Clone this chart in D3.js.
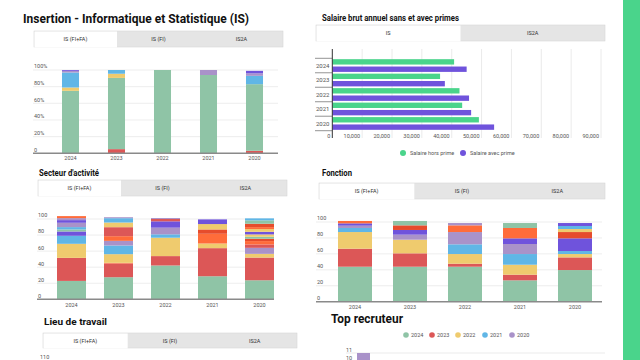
<!DOCTYPE html>
<html><head><meta charset="utf-8">
<script src="https://cdn.jsdelivr.net/npm/d3@7"></script>
<style>
html,body{margin:0;padding:0;background:#fff;overflow:hidden;}
svg{display:block;font-family:Roboto, "Noto Sans", sans-serif;}
</style></head><body>
<svg id="c" width="640" height="360"></svg>
<script>
// ---------- DATA ----------
const years = ["2024", "2023", "2022", "2021", "2020"];
const palette = {green:"#8fc4a6", red:"#dc5757", yellow:"#efcb6e", blue:"#60b6e6",
  lavender:"#a992c9", purple:"#6f53dc", orange:"#ff6c3a", orangered:"#e64c2c"};

// Insertion (%), segments bottom -> top
const insertion2024 = [["green",75],["yellow",4],["blue",18],["lavender",2],["purple",1]];
const insertion2023 = [["red",5],["green",85.5],["yellow",5],["blue",4.5]];
const insertion2022 = [["green",100]];
const insertion2021 = [["green",94],["lavender",6]];
const insertion2020 = [["red",3],["green",80],["blue",10],["lavender",3],["purple",3]];
const insertionTicks = [0, 20, 40, 60, 80, 100];

// Secteur d'activité
const secteur2024 = [["green",22.9],["red",28.7],["yellow",17.5],["blue",10],["purple",5.4],["green",2.5],["blue",2.9],["lavender",5.4],["purple",3.3],["lavender",2.5],["orange",2.5]];
const secteur2023 = [["green",27.5],["red",17.1],["orange",0.8],["yellow",10.8],["blue",10.8],["lavender",5.8],["orange",5.8],["red",11.2],["yellow",5.8],["blue",5.4],["lavender",1.2]];
const secteur2022 = [["green",42.1],["red",11.7],["yellow",22.9],["blue",4.2],["lavender",8.3],["purple",7.9],["red",2.9],["lavender",1.2]];
const secteur2021 = [["green",28.7],["red",35],["yellow",5.8],["orange",12.1],["orangered",5.4],["yellow",6.7],["purple",5.8]];
const secteur2020 = [["green",23.7],["red",28.3],["yellow",4.6],["lavender",7.5],["red",4.2],["orange",4.2],["orangered",2.9],["green",2.5],["yellow",2.9],["purple",3.3],["yellow",3.3],["orange",2.5],["orangered",4.2],["green",4.2],["blue",2.5]];

// Fonction
const fonction2024 = [["green",43.9],["red",22.6],["yellow",20.9],["blue",5.1],["lavender",2.9],["purple",2.9],["orange",3]];
const fonction2023 = [["green",43.9],["red",16.8],["yellow",17.1],["lavender",6.3],["purple",5.9],["orangered",5.8],["green",5.5]];
const fonction2022 = [["green",43.9],["red",3.8],["yellow",12.1],["blue",12.2],["lavender",15.4],["orange",8.4],["lavender",2.9]];
const fonction2021 = [["green",26.8],["red",7.1],["yellow",12.5],["blue",13.4],["lavender",12.6],["purple",7.1],["orange",13],["green",6.2]];
const fonction2020 = [["green",39.7],["red",15.9],["yellow",4.2],["blue",3.8],["purple",15.9],["orangered",7.9],["yellow",3.8],["blue",3.8],["purple",3.7]];
const countTicks = [0, 20, 40, 60, 80, 100];

// Salaire brut annuel
const salaireHorsPrime = [40800, 36100, 42600, 43500, 49100];
const salaireAvecPrime = [45000, 37700, 45800, 46500, 54200];
const salaireTicks = [0,10000,20000,30000,40000,50000,60000,70000,80000,90000];
const salaireSeries = ["Salaire hors prime", "Salaire avec prime"];

// Top recruteur
const recruteurLegend = ["2024", "2023", "2022", "2021", "2020"];
const recruteurValues = [11];
const recruteurTicks = [11, 10];
const lieuTicks = [110];

// Tabs
const tabs3 = ["IS (FI+FA)", "IS (FI)", "IS2A"];
const tabs2 = ["IS", "IS2A"];

// ---------- DRAW ----------
const svg = d3.select("#c");
const TXT = "#555";

svg.append("rect").attr("x",623).attr("y",0).attr("width",17).attr("height",360).attr("fill","#4ad48b");

function title(text, x, y, size, width){
  svg.append("text").attr("x",x).attr("y",y).attr("font-size",size).attr("font-weight",700)
    .attr("fill","#111").attr("textLength",width).attr("lengthAdjust","spacingAndGlyphs").text(text);
}
function tabBar(x0, x1, y0, y1, labels){
  const g = svg.append("g");
  const xs = d3.scaleBand().domain(labels).range([x0, x1]);
  g.append("rect").attr("x",x0).attr("y",y0).attr("width",x1-x0).attr("height",y1-y0)
    .attr("fill","#e5e5e5").attr("stroke","#d6d6d6").attr("stroke-width",0.6);
  g.append("rect").attr("x",x0+0.5).attr("y",y0+0.5).attr("width",xs.bandwidth()-0.5).attr("height",y1-y0)
    .attr("fill","#fff");
  g.selectAll("text.t").data(labels).join("text")
    .attr("x",d=>xs(d)+xs.bandwidth()/2).attr("y",(y0+y1)/2+2)
    .attr("text-anchor","middle").attr("font-size",5.5).attr("fill","#333").text(d=>d);
}
function stacked(cfg){
  const g = svg.append("g");
  const x = d3.scaleBand().domain(years).range(cfg.xr).paddingInner(cfg.pi).paddingOuter(cfg.pi/2);
  const y = d3.scaleLinear().domain([0,100]).range(cfg.yr);
  g.selectAll("line.grid").data(cfg.ticks.filter(t=>t>0)).join("line")
    .attr("x1",cfg.gx[0]).attr("x2",cfg.gx[1]).attr("y1",d=>y(d)).attr("y2",d=>y(d))
    .attr("stroke","#e8e8e8").attr("stroke-width",0.8);
  g.selectAll("text.yl").data(cfg.ticks).join("text")
    .attr("x",cfg.gx[0]+1).attr("y",d=>y(d)-1.6).attr("font-size",5.5).attr("fill",TXT)
    .text(cfg.fmt);
  years.forEach((yr,i)=>{
    let acc = 0;
    const segs = cfg.data[i].map(([k,v])=>{const s={k,y0:acc,y1:acc+v}; acc+=v; return s;});
    g.selectAll(null).data(segs).join("rect")
      .attr("x",x(yr)).attr("width",x.bandwidth())
      .attr("y",d=>y(d.y1)).attr("height",d=>y(d.y0)-y(d.y1))
      .attr("fill",d=>palette[d.k]);
  });
  g.append("line").attr("x1",cfg.gx[0]).attr("x2",cfg.gx[1]).attr("y1",y(0)).attr("y2",y(0))
    .attr("stroke","#8a8a8a").attr("stroke-width",1.5);
  g.selectAll("text.xl").data(years).join("text")
    .attr("x",d=>x(d)+x.bandwidth()/2).attr("y",cfg.xly).attr("text-anchor","middle")
    .attr("font-size",5.5).attr("fill",TXT).text(d=>d);
}

// Insertion
title("Insertion - Informatique et Statistique (IS)", 23, 22.7, 13, 226);
tabBar(34, 283, 31, 47, tabs3);
stacked({data:[insertion2024,insertion2023,insertion2022,insertion2021,insertion2020],
  xr:[47.5,277.5], pi:0.63, yr:[153.3,70], gx:[33,278], ticks:insertionTicks,
  fmt:d=>d===0?"0":d+"%", xly:160});

// Secteur
title("Secteur d'activité", 39, 176, 8.5, 60);
tabBar(38, 287, 180, 196, tabs3);
stacked({data:[secteur2024,secteur2023,secteur2022,secteur2021,secteur2020],
  xr:[48,283], pi:0.383, yr:[299.3,219], gx:[37,274], ticks:countTicks,
  fmt:d=>String(d), xly:306.5});

// Fonction
title("Fonction", 322, 176, 8.5, 30);
tabBar(319, 605, 183, 199, tabs3);
stacked({data:[fonction2024,fonction2023,fonction2022,fonction2021,fonction2020],
  xr:[327.5,602.5], pi:0.382, yr:[301.7,222], gx:[316,602], ticks:countTicks,
  fmt:d=>String(d), xly:309});

// Salaire
title("Salaire brut annuel sans et avec primes", 322, 21, 8.5, 137);
tabBar(316, 605, 25, 41, tabs2);
{
  const g = svg.append("g");
  const x = d3.scaleLinear().domain([0,90000]).range([332.3,601]);
  const y = d3.scaleBand().domain(years).range([58.3,130.7]);
  const ys = d3.scaleBand().domain(salaireSeries).range([0,y.bandwidth()]).paddingInner(0.27).paddingOuter(0.12);
  const cols = ["#4ad48b","#6f53dc"];
  g.selectAll("line.vg").data(salaireTicks.filter(t=>t>0)).join("line")
    .attr("x1",d=>x(d)).attr("x2",d=>x(d)).attr("y1",49).attr("y2",138)
    .attr("stroke","#e4e4e4").attr("stroke-width",0.8);
  g.selectAll("text.xl").data(salaireTicks).join("text")
    .attr("x",d=>x(d)-2).attr("y",137.5).attr("text-anchor","end")
    .attr("font-size",5.5).attr("fill",TXT).text(d=>d3.format(",")(d));
  const vals = [salaireHorsPrime, salaireAvecPrime];
  salaireSeries.forEach((s,si)=>{
    g.selectAll(null).data(years).join("rect")
      .attr("x",x(0)).attr("y",d=>y(d)+ys(s)).attr("height",ys.bandwidth())
      .attr("width",(d,i)=>x(vals[si][i])-x(0)).attr("fill",cols[si]);
  });
  const bounds = years.map(d=>y(d)).concat([y.range()[1]]);
  g.selectAll("line.tk").data(bounds).join("line")
    .attr("x1",315).attr("x2",332.3).attr("y1",d=>d).attr("y2",d=>d)
    .attr("stroke","#666").attr("stroke-width",0.7);
  g.selectAll("text.yl").data(years).join("text")
    .attr("x",316).attr("y",d=>y(d)+y.bandwidth()/2+2.2).attr("font-size",6).attr("fill",TXT).text(d=>d);
  g.append("line").attr("x1",x(0)).attr("x2",x(0)).attr("y1",49).attr("y2",138)
    .attr("stroke","#333").attr("stroke-width",1);
  const lx = [403, 463];
  salaireSeries.forEach((s,i)=>{
    g.append("circle").attr("cx",lx[i]).attr("cy",153).attr("r",3).attr("fill",cols[i]);
    g.append("text").attr("x",lx[i]+7).attr("y",155).attr("font-size",5.5).attr("fill",TXT).text(s);
  });
}

// Lieu de travail
title("Lieu de travail", 44, 325, 9.4, 63);
tabBar(43, 297, 333, 348, tabs3);
{
  const y = d3.scaleLinear().domain([0,110]).range([800,361]);
  svg.selectAll("text.lieu").data(lieuTicks).join("text")
    .attr("x",40).attr("y",d=>y(d)-2).attr("font-size",5.5).attr("fill",TXT).text(d=>d);
}

// Top recruteur
title("Top recruteur", 331, 323.3, 13, 72);
{
  const lc = [palette.green, palette.red, palette.yellow, palette.blue, palette.lavender];
  const lx = [406, 432, 458, 485, 512];
  recruteurLegend.forEach((d,i)=>{
    svg.append("circle").attr("cx",lx[i]).attr("cy",335).attr("r",2.8).attr("fill",lc[i]);
    svg.append("text").attr("x",lx[i]+5).attr("y",337).attr("font-size",5.5).attr("fill",TXT).text(d);
  });
  const y = d3.scaleLinear().domain([0,11]).range([441,353]);
  svg.selectAll("line.rg").data(recruteurTicks).join("line")
    .attr("x1",346).attr("x2",605).attr("y1",d=>y(d)).attr("y2",d=>y(d))
    .attr("stroke","#e6e6e6").attr("stroke-width",0.8);
  svg.selectAll("text.rl").data(recruteurTicks).join("text")
    .attr("x",346).attr("y",d=>y(d)-1.5).attr("font-size",5.5).attr("fill",TXT).text(d=>d);
  svg.selectAll("rect.rb").data(recruteurValues).join("rect")
    .attr("x",357).attr("width",13).attr("y",d=>y(d)).attr("height",d=>y(0)-y(d))
    .attr("fill",palette.lavender);
}
</script>
</body></html>
